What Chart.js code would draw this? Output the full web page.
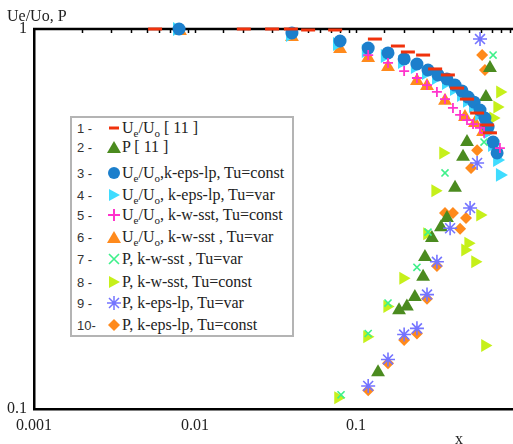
<!DOCTYPE html>
<html><head><meta charset="utf-8">
<script src="https://cdn.jsdelivr.net/npm/chart.js@4.4.1/dist/chart.umd.min.js"></script>
<style>
html,body{margin:0;padding:0;background:#fff;}
#wrap{position:relative;width:513px;height:444px;overflow:hidden;background:#fff;}
#c{position:absolute;left:0;top:0;}
.t{position:absolute;font-family:"Liberation Serif","DejaVu Serif","Noto Serif",serif;font-size:16px;line-height:16px;color:#222;white-space:pre;}
#legend{position:absolute;left:70px;top:116px;width:220px;height:217px;border:2px solid #b4b4b4;background:#fff;}
.row{position:absolute;left:0;width:220px;height:16px;}
.num{position:absolute;left:5px;top:1px;font-family:"Liberation Sans",Arial,sans-serif;font-size:13px;line-height:16px;color:#333;white-space:pre;}
.mk{position:absolute;left:35px;top:1px;width:14px;height:14px;}
.lab{position:absolute;left:50px;top:0;font-family:"Liberation Serif","DejaVu Serif","Noto Serif",serif;font-size:16px;line-height:16px;color:#222;white-space:pre;}
sub{font-size:11px;vertical-align:-4px;line-height:0;}
</style></head>
<body>
<div id="wrap">
<canvas id="c" width="513" height="444"></canvas>
<div class="t" style="left:7px;top:8px;">Ue/Uo, P</div>
<div class="t" style="left:455px;top:431px;">x</div>
<div id="legend"></div>
</div>
<script>
// ---- data ----
const xTickLabels = ['0.001', '0.01', '0.1'];
const yTickLabels = ['0.1', '1'];

const ueExpX = [0.00565, 0.0201, 0.0301, 0.0394, 0.0504, 0.0742, 0.131, 0.182, 0.210, 0.261, 0.310, 0.372, 0.424, 0.489, 0.565, 0.652, 0.679];
const ueExpY = [1.0, 1.0, 1.0, 1.0, 0.994, 0.994, 0.941, 0.902, 0.870, 0.854, 0.785, 0.757, 0.699, 0.654, 0.601, 0.559, 0.533];

const pExpX = [0.679, 0.641, 0.489, 0.462, 0.412, 0.367, 0.337, 0.296, 0.268, 0.261, 0.232, 0.207, 0.185, 0.137];
const pExpY = [0.789, 0.662, 0.504, 0.461, 0.382, 0.318, 0.301, 0.282, 0.251, 0.223, 0.197, 0.186, 0.182, 0.125];

const ueKepsConstX = [0.00796, 0.0400, 0.0796, 0.119, 0.158, 0.199, 0.239, 0.280, 0.323, 0.367, 0.412, 0.455, 0.497, 0.541, 0.589, 0.632, 0.661, 0.710, 0.752];
const ueKepsConstY = [1.0, 0.976, 0.930, 0.891, 0.865, 0.834, 0.809, 0.780, 0.757, 0.739, 0.712, 0.687, 0.662, 0.642, 0.612, 0.583, 0.552, 0.504, 0.472];

const ueKepsVarX = [0.00773, 0.0389, 0.0762, 0.115, 0.151, 0.193, 0.232, 0.272, 0.314, 0.362, 0.406, 0.449, 0.489, 0.533, 0.581, 0.624, 0.661, 0.700, 0.752, 0.783];
const ueKepsVarY = [1.0, 0.964, 0.913, 0.875, 0.849, 0.819, 0.794, 0.766, 0.743, 0.721, 0.695, 0.670, 0.647, 0.627, 0.597, 0.569, 0.536, 0.495, 0.452, 0.413];

const ueSstConstX = [0.119, 0.158, 0.199, 0.239, 0.276, 0.318, 0.357, 0.400, 0.443, 0.489, 0.533, 0.589, 0.624, 0.783];
const ueSstConstY = [0.854, 0.814, 0.775, 0.743, 0.712, 0.683, 0.654, 0.620, 0.594, 0.576, 0.562, 0.549, 0.533, 0.486];

const ueSstVarX = [0.00807, 0.0400, 0.0796, 0.119, 0.158, 0.239, 0.276, 0.357, 0.475, 0.548, 0.615];
const ueSstVarY = [0.988, 0.953, 0.886, 0.839, 0.794, 0.730, 0.708, 0.647, 0.587, 0.566, 0.536];

const pSstVarX = [0.710, 0.624, 0.357, 0.280, 0.239, 0.158, 0.119, 0.0807];
const pSstVarY = [0.854, 0.504, 0.418, 0.292, 0.236, 0.190, 0.158, 0.109];

const pSstConstX = [0.783, 0.752, 0.710, 0.347, 0.310, 0.589, 0.276, 0.497, 0.475, 0.548, 0.196, 0.156, 0.117, 0.632, 0.0773];
const pSstConstY = [0.683, 0.623, 0.583, 0.472, 0.375, 0.324, 0.289, 0.273, 0.262, 0.244, 0.221, 0.186, 0.155, 0.147, 0.107];

const pKepsVarX = [0.589, 0.565, 0.511, 0.384, 0.318, 0.276, 0.239, 0.199, 0.158, 0.119];
const pKepsVarY = [0.941, 0.444, 0.338, 0.299, 0.244, 0.200, 0.163, 0.157, 0.135, 0.115];

const pKepsConstX = [0.607, 0.632, 0.565, 0.518, 0.357, 0.400, 0.482, 0.443, 0.318, 0.276, 0.239, 0.199, 0.158, 0.119];
const pKepsConstY = [0.854, 0.780, 0.480, 0.431, 0.328, 0.328, 0.318, 0.298, 0.238, 0.195, 0.158, 0.152, 0.132, 0.112];

const seriesNames = [
  'Ue/Uo [ 11 ]', 'P [ 11 ]', 'Ue/Uo,k-eps-lp, Tu=const', 'Ue/Uo, k-eps-lp, Tu=var',
  'Ue/Uo, k-w-sst, Tu=const', 'Ue/Uo, k-w-sst , Tu=var', 'P, k-w-sst , Tu=var',
  'P, k-w-sst, Tu=const', 'P, k-eps-lp, Tu=var', 'P, k-eps-lp, Tu=const'
];

// ---- build ----
const zip = (xs, ys) => xs.map((x, i) => ({x: x, y: ys[i]}));
const C = {
  red: '#f0320c', green: '#4b8b1f', blue: '#1c7fcc', cyan: '#3fdcff', magenta: '#ff33cc',
  orange: '#ff8a1c', mint: '#3ef08a', yellow: '#c6f01a', violet: '#7474ff'
};
function ds(label, xs, ys, o) {
  return Object.assign({
    label: label, data: zip(xs, ys), clip: false, showLine: false,
    pointBorderWidth: 0
  }, o);
}
const datasets = [
  ds(seriesNames[0], ueExpX, ueExpY, {pointStyle: 'line', pointRadius: 7, pointBorderWidth: 3, borderColor: C.red, backgroundColor: C.red, order: 1}),
  ds(seriesNames[1], pExpX, pExpY, {pointStyle: 'triangle', pointRadius: 8, borderColor: C.green, backgroundColor: C.green, order: 8}),
  ds(seriesNames[2], ueKepsConstX, ueKepsConstY, {pointStyle: 'circle', pointRadius: 6.5, borderColor: C.blue, backgroundColor: C.blue, order: 5}),
  ds(seriesNames[3], ueKepsVarX, ueKepsVarY, {pointStyle: 'triangle', pointRotation: 90, pointRadius: 8, borderColor: C.cyan, backgroundColor: C.cyan, order: 6}),
  ds(seriesNames[4], ueSstConstX, ueSstConstY, {pointStyle: 'cross', pointRadius: 5, pointBorderWidth: 1.8, borderColor: C.magenta, backgroundColor: C.magenta, order: 4}),
  ds(seriesNames[5], ueSstVarX, ueSstVarY, {pointStyle: 'triangle', pointRadius: 8, borderColor: C.orange, backgroundColor: C.orange, order: 7}),
  ds(seriesNames[6], pSstVarX, pSstVarY, {pointStyle: 'crossRot', pointRadius: 5, pointBorderWidth: 1.6, borderColor: C.mint, backgroundColor: C.mint, order: 2}),
  ds(seriesNames[7], pSstConstX, pSstConstY, {pointStyle: 'triangle', pointRotation: 90, pointRadius: 7.5, borderColor: C.yellow, backgroundColor: C.yellow, order: 9}),
  ds(seriesNames[8], pKepsVarX, pKepsVarY, {pointStyle: 'star', pointRadius: 7, pointBorderWidth: 1.6, borderColor: C.violet, backgroundColor: C.violet, order: 3}),
  ds(seriesNames[9], pKepsConstX, pKepsConstY, {pointStyle: 'rectRot', pointRadius: 6, borderColor: C.orange, backgroundColor: C.orange, order: 10})
];

function labelFor(list) {
  return function (value) {
    for (const s of list) {
      if (Math.abs(Math.log10(value) - Math.log10(parseFloat(s))) < 1e-6) return s;
    }
    return '';
  };
}

const frame = {
  id: 'frame',
  beforeDatasetsDraw(chart) {
    const {ctx, chartArea: a, scales} = chart;
    const x = scales.x;
    ctx.save();
    ctx.strokeStyle = '#000';
    ctx.lineWidth = 2.5;
    ctx.beginPath(); ctx.moveTo(a.left - 1, a.top); ctx.lineTo(a.right, a.top); ctx.stroke();
    ctx.lineWidth = 1.5;
    x.ticks.forEach(t => {
      const px = Math.round(x.getPixelForValue(t.value)) + 0.5;
      if (px <= a.left + 2 || px > a.right) return;
      ctx.beginPath(); ctx.moveTo(px, a.top); ctx.lineTo(px, a.top + 4); ctx.stroke();
    });
    ctx.restore();
  }
};

const font = {family: '"Liberation Serif", "DejaVu Serif", "Noto Serif", serif', size: 16};

new Chart(document.getElementById('c'), {
  type: 'scatter',
  data: {datasets: datasets},
  options: {
    responsive: false, animation: false, devicePixelRatio: 1, events: [],
    layout: {autoPadding: false, padding: {top: 29, left: 0, right: 0, bottom: 0}},
    plugins: {legend: {display: false}, tooltip: {enabled: false}},
    scales: {
      x: {
        type: 'logarithmic', min: 0.001, max: 0.944,
        grid: {display: false, drawTicks: false},
        border: {display: true, color: '#000', width: 2.5},
        ticks: {autoSkip: false, maxRotation: 0, minRotation: 0, padding: 7, color: '#222', font: font, callback: labelFor(xTickLabels)},
        afterFit(s) { s.height = 35; s.paddingRight = 0; }
      },
      y: {
        type: 'logarithmic', min: 0.1, max: 1,
        grid: {display: false, drawTicks: false},
        border: {display: true, color: '#000', width: 2.5},
        ticks: {autoSkip: false, padding: 7, color: '#222', font: font, callback: labelFor(yTickLabels)},
        afterFit(s) { s.width = 34; }
      }
    }
  },
  plugins: [frame]
});

// ---- HTML legend ----
const svgNS = 'http://www.w3.org/2000/svg';
const markers = [
  '<line x1="2" y1="7" x2="12" y2="7" stroke="' + C.red + '" stroke-width="3"/>',
  '<polygon points="7,1 14,13 0,13" fill="' + C.green + '"/>',
  '<circle cx="7" cy="7" r="6" fill="' + C.blue + '"/>',
  '<polygon points="2,1 13,7 2,13" fill="' + C.cyan + '"/>',
  '<path d="M7 1V13M1 7H13" stroke="' + C.magenta + '" stroke-width="2"/>',
  '<polygon points="7,1 14,13 0,13" fill="' + C.orange + '"/>',
  '<path d="M2 2L12 12M12 2L2 12" stroke="' + C.mint + '" stroke-width="1.6"/>',
  '<polygon points="2,1 13,7 2,13" fill="' + C.yellow + '"/>',
  '<path d="M7 0V14M0 7H14M2 2L12 12M12 2L2 12" stroke="' + C.violet + '" stroke-width="1.5"/>',
  '<polygon points="7,1 13,7 7,13 1,7" fill="' + C.orange + '"/>'
];
const rowTops = [2, 21, 47, 69, 89, 111, 133, 156, 177, 199];
const nums = ['1 -', '2 -', '3 -', '4 -', '5 -', '6 -', '7 -', '8 -', '9 -', '10-'];
function richText(s) {
  return s.replace(/Ue\/Uo/g, 'U<sub>e</sub>/U<sub>o</sub>');
}
const leg = document.getElementById('legend');
seriesNames.forEach((name, i) => {
  const row = document.createElement('div');
  row.className = 'row';
  row.style.top = rowTops[i] + 'px';
  row.innerHTML = '<span class="num">' + nums[i] + '</span>' +
    '<svg class="mk" xmlns="' + svgNS + '" viewBox="0 0 14 14">' + markers[i] + '</svg>' +
    '<span class="lab">' + richText(name) + '</span>';
  leg.appendChild(row);
});
</script>
</body></html>
